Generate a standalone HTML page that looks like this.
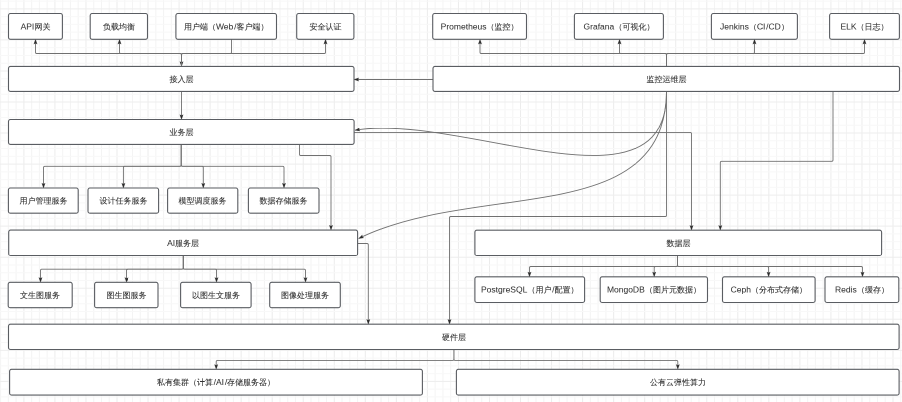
<!DOCTYPE html>
<html><head><meta charset="utf-8"><style>
html,body{margin:0;padding:0;background:#fff;width:902px;height:402px;overflow:hidden}
#s{position:absolute;left:0;top:0;width:1804px;height:804px;transform:scale(0.5);transform-origin:0 0;will-change:transform}
svg{display:block}
</style></head><body>
<div id="s"><svg width="1804" height="804" viewBox="0 0 902 402">
<rect width="902" height="402" fill="#fff"/>
<line x1="0.60" y1="0" x2="0.60" y2="402" stroke="#f4f4f4" stroke-width="1"/>
<line x1="8.36" y1="0" x2="8.36" y2="402" stroke="#f4f4f4" stroke-width="1"/>
<line x1="16.12" y1="0" x2="16.12" y2="402" stroke="#f4f4f4" stroke-width="1"/>
<line x1="23.88" y1="0" x2="23.88" y2="402" stroke="#ececec" stroke-width="1"/>
<line x1="31.64" y1="0" x2="31.64" y2="402" stroke="#f4f4f4" stroke-width="1"/>
<line x1="39.40" y1="0" x2="39.40" y2="402" stroke="#f4f4f4" stroke-width="1"/>
<line x1="47.16" y1="0" x2="47.16" y2="402" stroke="#f4f4f4" stroke-width="1"/>
<line x1="54.92" y1="0" x2="54.92" y2="402" stroke="#ececec" stroke-width="1"/>
<line x1="62.68" y1="0" x2="62.68" y2="402" stroke="#f4f4f4" stroke-width="1"/>
<line x1="70.44" y1="0" x2="70.44" y2="402" stroke="#f4f4f4" stroke-width="1"/>
<line x1="78.20" y1="0" x2="78.20" y2="402" stroke="#f4f4f4" stroke-width="1"/>
<line x1="85.96" y1="0" x2="85.96" y2="402" stroke="#ececec" stroke-width="1"/>
<line x1="93.72" y1="0" x2="93.72" y2="402" stroke="#f4f4f4" stroke-width="1"/>
<line x1="101.48" y1="0" x2="101.48" y2="402" stroke="#f4f4f4" stroke-width="1"/>
<line x1="109.24" y1="0" x2="109.24" y2="402" stroke="#f4f4f4" stroke-width="1"/>
<line x1="117.00" y1="0" x2="117.00" y2="402" stroke="#ececec" stroke-width="1"/>
<line x1="124.76" y1="0" x2="124.76" y2="402" stroke="#f4f4f4" stroke-width="1"/>
<line x1="132.52" y1="0" x2="132.52" y2="402" stroke="#f4f4f4" stroke-width="1"/>
<line x1="140.28" y1="0" x2="140.28" y2="402" stroke="#f4f4f4" stroke-width="1"/>
<line x1="148.04" y1="0" x2="148.04" y2="402" stroke="#ececec" stroke-width="1"/>
<line x1="155.80" y1="0" x2="155.80" y2="402" stroke="#f4f4f4" stroke-width="1"/>
<line x1="163.56" y1="0" x2="163.56" y2="402" stroke="#f4f4f4" stroke-width="1"/>
<line x1="171.32" y1="0" x2="171.32" y2="402" stroke="#f4f4f4" stroke-width="1"/>
<line x1="179.08" y1="0" x2="179.08" y2="402" stroke="#ececec" stroke-width="1"/>
<line x1="186.84" y1="0" x2="186.84" y2="402" stroke="#f4f4f4" stroke-width="1"/>
<line x1="194.60" y1="0" x2="194.60" y2="402" stroke="#f4f4f4" stroke-width="1"/>
<line x1="202.36" y1="0" x2="202.36" y2="402" stroke="#f4f4f4" stroke-width="1"/>
<line x1="210.12" y1="0" x2="210.12" y2="402" stroke="#ececec" stroke-width="1"/>
<line x1="217.88" y1="0" x2="217.88" y2="402" stroke="#f4f4f4" stroke-width="1"/>
<line x1="225.64" y1="0" x2="225.64" y2="402" stroke="#f4f4f4" stroke-width="1"/>
<line x1="233.40" y1="0" x2="233.40" y2="402" stroke="#f4f4f4" stroke-width="1"/>
<line x1="241.16" y1="0" x2="241.16" y2="402" stroke="#ececec" stroke-width="1"/>
<line x1="248.92" y1="0" x2="248.92" y2="402" stroke="#f4f4f4" stroke-width="1"/>
<line x1="256.68" y1="0" x2="256.68" y2="402" stroke="#f4f4f4" stroke-width="1"/>
<line x1="264.44" y1="0" x2="264.44" y2="402" stroke="#f4f4f4" stroke-width="1"/>
<line x1="272.20" y1="0" x2="272.20" y2="402" stroke="#ececec" stroke-width="1"/>
<line x1="279.96" y1="0" x2="279.96" y2="402" stroke="#f4f4f4" stroke-width="1"/>
<line x1="287.72" y1="0" x2="287.72" y2="402" stroke="#f4f4f4" stroke-width="1"/>
<line x1="295.48" y1="0" x2="295.48" y2="402" stroke="#f4f4f4" stroke-width="1"/>
<line x1="303.24" y1="0" x2="303.24" y2="402" stroke="#ececec" stroke-width="1"/>
<line x1="311.00" y1="0" x2="311.00" y2="402" stroke="#f4f4f4" stroke-width="1"/>
<line x1="318.76" y1="0" x2="318.76" y2="402" stroke="#f4f4f4" stroke-width="1"/>
<line x1="326.52" y1="0" x2="326.52" y2="402" stroke="#f4f4f4" stroke-width="1"/>
<line x1="334.28" y1="0" x2="334.28" y2="402" stroke="#ececec" stroke-width="1"/>
<line x1="342.04" y1="0" x2="342.04" y2="402" stroke="#f4f4f4" stroke-width="1"/>
<line x1="349.80" y1="0" x2="349.80" y2="402" stroke="#f4f4f4" stroke-width="1"/>
<line x1="357.56" y1="0" x2="357.56" y2="402" stroke="#f4f4f4" stroke-width="1"/>
<line x1="365.32" y1="0" x2="365.32" y2="402" stroke="#ececec" stroke-width="1"/>
<line x1="373.08" y1="0" x2="373.08" y2="402" stroke="#f4f4f4" stroke-width="1"/>
<line x1="380.84" y1="0" x2="380.84" y2="402" stroke="#f4f4f4" stroke-width="1"/>
<line x1="388.60" y1="0" x2="388.60" y2="402" stroke="#f4f4f4" stroke-width="1"/>
<line x1="396.36" y1="0" x2="396.36" y2="402" stroke="#ececec" stroke-width="1"/>
<line x1="404.12" y1="0" x2="404.12" y2="402" stroke="#f4f4f4" stroke-width="1"/>
<line x1="411.88" y1="0" x2="411.88" y2="402" stroke="#f4f4f4" stroke-width="1"/>
<line x1="419.64" y1="0" x2="419.64" y2="402" stroke="#f4f4f4" stroke-width="1"/>
<line x1="427.40" y1="0" x2="427.40" y2="402" stroke="#ececec" stroke-width="1"/>
<line x1="435.16" y1="0" x2="435.16" y2="402" stroke="#f4f4f4" stroke-width="1"/>
<line x1="442.92" y1="0" x2="442.92" y2="402" stroke="#f4f4f4" stroke-width="1"/>
<line x1="450.68" y1="0" x2="450.68" y2="402" stroke="#f4f4f4" stroke-width="1"/>
<line x1="458.44" y1="0" x2="458.44" y2="402" stroke="#ececec" stroke-width="1"/>
<line x1="466.20" y1="0" x2="466.20" y2="402" stroke="#f4f4f4" stroke-width="1"/>
<line x1="473.96" y1="0" x2="473.96" y2="402" stroke="#f4f4f4" stroke-width="1"/>
<line x1="481.72" y1="0" x2="481.72" y2="402" stroke="#f4f4f4" stroke-width="1"/>
<line x1="489.48" y1="0" x2="489.48" y2="402" stroke="#ececec" stroke-width="1"/>
<line x1="497.24" y1="0" x2="497.24" y2="402" stroke="#f4f4f4" stroke-width="1"/>
<line x1="505.00" y1="0" x2="505.00" y2="402" stroke="#f4f4f4" stroke-width="1"/>
<line x1="512.76" y1="0" x2="512.76" y2="402" stroke="#f4f4f4" stroke-width="1"/>
<line x1="520.52" y1="0" x2="520.52" y2="402" stroke="#ececec" stroke-width="1"/>
<line x1="528.28" y1="0" x2="528.28" y2="402" stroke="#f4f4f4" stroke-width="1"/>
<line x1="536.04" y1="0" x2="536.04" y2="402" stroke="#f4f4f4" stroke-width="1"/>
<line x1="543.80" y1="0" x2="543.80" y2="402" stroke="#f4f4f4" stroke-width="1"/>
<line x1="551.56" y1="0" x2="551.56" y2="402" stroke="#ececec" stroke-width="1"/>
<line x1="559.32" y1="0" x2="559.32" y2="402" stroke="#f4f4f4" stroke-width="1"/>
<line x1="567.08" y1="0" x2="567.08" y2="402" stroke="#f4f4f4" stroke-width="1"/>
<line x1="574.84" y1="0" x2="574.84" y2="402" stroke="#f4f4f4" stroke-width="1"/>
<line x1="582.60" y1="0" x2="582.60" y2="402" stroke="#ececec" stroke-width="1"/>
<line x1="590.36" y1="0" x2="590.36" y2="402" stroke="#f4f4f4" stroke-width="1"/>
<line x1="598.12" y1="0" x2="598.12" y2="402" stroke="#f4f4f4" stroke-width="1"/>
<line x1="605.88" y1="0" x2="605.88" y2="402" stroke="#f4f4f4" stroke-width="1"/>
<line x1="613.64" y1="0" x2="613.64" y2="402" stroke="#ececec" stroke-width="1"/>
<line x1="621.40" y1="0" x2="621.40" y2="402" stroke="#f4f4f4" stroke-width="1"/>
<line x1="629.16" y1="0" x2="629.16" y2="402" stroke="#f4f4f4" stroke-width="1"/>
<line x1="636.92" y1="0" x2="636.92" y2="402" stroke="#f4f4f4" stroke-width="1"/>
<line x1="644.68" y1="0" x2="644.68" y2="402" stroke="#ececec" stroke-width="1"/>
<line x1="652.44" y1="0" x2="652.44" y2="402" stroke="#f4f4f4" stroke-width="1"/>
<line x1="660.20" y1="0" x2="660.20" y2="402" stroke="#f4f4f4" stroke-width="1"/>
<line x1="667.96" y1="0" x2="667.96" y2="402" stroke="#f4f4f4" stroke-width="1"/>
<line x1="675.72" y1="0" x2="675.72" y2="402" stroke="#ececec" stroke-width="1"/>
<line x1="683.48" y1="0" x2="683.48" y2="402" stroke="#f4f4f4" stroke-width="1"/>
<line x1="691.24" y1="0" x2="691.24" y2="402" stroke="#f4f4f4" stroke-width="1"/>
<line x1="699.00" y1="0" x2="699.00" y2="402" stroke="#f4f4f4" stroke-width="1"/>
<line x1="706.76" y1="0" x2="706.76" y2="402" stroke="#ececec" stroke-width="1"/>
<line x1="714.52" y1="0" x2="714.52" y2="402" stroke="#f4f4f4" stroke-width="1"/>
<line x1="722.28" y1="0" x2="722.28" y2="402" stroke="#f4f4f4" stroke-width="1"/>
<line x1="730.04" y1="0" x2="730.04" y2="402" stroke="#f4f4f4" stroke-width="1"/>
<line x1="737.80" y1="0" x2="737.80" y2="402" stroke="#ececec" stroke-width="1"/>
<line x1="745.56" y1="0" x2="745.56" y2="402" stroke="#f4f4f4" stroke-width="1"/>
<line x1="753.32" y1="0" x2="753.32" y2="402" stroke="#f4f4f4" stroke-width="1"/>
<line x1="761.08" y1="0" x2="761.08" y2="402" stroke="#f4f4f4" stroke-width="1"/>
<line x1="768.84" y1="0" x2="768.84" y2="402" stroke="#ececec" stroke-width="1"/>
<line x1="776.60" y1="0" x2="776.60" y2="402" stroke="#f4f4f4" stroke-width="1"/>
<line x1="784.36" y1="0" x2="784.36" y2="402" stroke="#f4f4f4" stroke-width="1"/>
<line x1="792.12" y1="0" x2="792.12" y2="402" stroke="#f4f4f4" stroke-width="1"/>
<line x1="799.88" y1="0" x2="799.88" y2="402" stroke="#ececec" stroke-width="1"/>
<line x1="807.64" y1="0" x2="807.64" y2="402" stroke="#f4f4f4" stroke-width="1"/>
<line x1="815.40" y1="0" x2="815.40" y2="402" stroke="#f4f4f4" stroke-width="1"/>
<line x1="823.16" y1="0" x2="823.16" y2="402" stroke="#f4f4f4" stroke-width="1"/>
<line x1="830.92" y1="0" x2="830.92" y2="402" stroke="#ececec" stroke-width="1"/>
<line x1="838.68" y1="0" x2="838.68" y2="402" stroke="#f4f4f4" stroke-width="1"/>
<line x1="846.44" y1="0" x2="846.44" y2="402" stroke="#f4f4f4" stroke-width="1"/>
<line x1="854.20" y1="0" x2="854.20" y2="402" stroke="#f4f4f4" stroke-width="1"/>
<line x1="861.96" y1="0" x2="861.96" y2="402" stroke="#ececec" stroke-width="1"/>
<line x1="869.72" y1="0" x2="869.72" y2="402" stroke="#f4f4f4" stroke-width="1"/>
<line x1="877.48" y1="0" x2="877.48" y2="402" stroke="#f4f4f4" stroke-width="1"/>
<line x1="885.24" y1="0" x2="885.24" y2="402" stroke="#f4f4f4" stroke-width="1"/>
<line x1="893.00" y1="0" x2="893.00" y2="402" stroke="#ececec" stroke-width="1"/>
<line x1="900.76" y1="0" x2="900.76" y2="402" stroke="#f4f4f4" stroke-width="1"/>
<line x1="0" y1="1.12" x2="902" y2="1.12" stroke="#f8f8f8" stroke-width="1"/>
<line x1="0" y1="8.88" x2="902" y2="8.88" stroke="#eeeeee" stroke-width="1"/>
<line x1="0" y1="16.64" x2="902" y2="16.64" stroke="#f8f8f8" stroke-width="1"/>
<line x1="0" y1="24.40" x2="902" y2="24.40" stroke="#f8f8f8" stroke-width="1"/>
<line x1="0" y1="32.16" x2="902" y2="32.16" stroke="#f8f8f8" stroke-width="1"/>
<line x1="0" y1="39.92" x2="902" y2="39.92" stroke="#eeeeee" stroke-width="1"/>
<line x1="0" y1="47.68" x2="902" y2="47.68" stroke="#f8f8f8" stroke-width="1"/>
<line x1="0" y1="55.44" x2="902" y2="55.44" stroke="#f8f8f8" stroke-width="1"/>
<line x1="0" y1="63.20" x2="902" y2="63.20" stroke="#f8f8f8" stroke-width="1"/>
<line x1="0" y1="70.96" x2="902" y2="70.96" stroke="#eeeeee" stroke-width="1"/>
<line x1="0" y1="78.72" x2="902" y2="78.72" stroke="#f8f8f8" stroke-width="1"/>
<line x1="0" y1="86.48" x2="902" y2="86.48" stroke="#f8f8f8" stroke-width="1"/>
<line x1="0" y1="94.24" x2="902" y2="94.24" stroke="#f8f8f8" stroke-width="1"/>
<line x1="0" y1="102.00" x2="902" y2="102.00" stroke="#eeeeee" stroke-width="1"/>
<line x1="0" y1="109.76" x2="902" y2="109.76" stroke="#f8f8f8" stroke-width="1"/>
<line x1="0" y1="117.52" x2="902" y2="117.52" stroke="#f8f8f8" stroke-width="1"/>
<line x1="0" y1="125.28" x2="902" y2="125.28" stroke="#f8f8f8" stroke-width="1"/>
<line x1="0" y1="133.04" x2="902" y2="133.04" stroke="#eeeeee" stroke-width="1"/>
<line x1="0" y1="140.80" x2="902" y2="140.80" stroke="#f8f8f8" stroke-width="1"/>
<line x1="0" y1="148.56" x2="902" y2="148.56" stroke="#f8f8f8" stroke-width="1"/>
<line x1="0" y1="156.32" x2="902" y2="156.32" stroke="#f8f8f8" stroke-width="1"/>
<line x1="0" y1="164.08" x2="902" y2="164.08" stroke="#eeeeee" stroke-width="1"/>
<line x1="0" y1="171.84" x2="902" y2="171.84" stroke="#f8f8f8" stroke-width="1"/>
<line x1="0" y1="179.60" x2="902" y2="179.60" stroke="#f8f8f8" stroke-width="1"/>
<line x1="0" y1="187.36" x2="902" y2="187.36" stroke="#f8f8f8" stroke-width="1"/>
<line x1="0" y1="195.12" x2="902" y2="195.12" stroke="#eeeeee" stroke-width="1"/>
<line x1="0" y1="202.88" x2="902" y2="202.88" stroke="#f8f8f8" stroke-width="1"/>
<line x1="0" y1="210.64" x2="902" y2="210.64" stroke="#f8f8f8" stroke-width="1"/>
<line x1="0" y1="218.40" x2="902" y2="218.40" stroke="#f8f8f8" stroke-width="1"/>
<line x1="0" y1="226.16" x2="902" y2="226.16" stroke="#eeeeee" stroke-width="1"/>
<line x1="0" y1="233.92" x2="902" y2="233.92" stroke="#f8f8f8" stroke-width="1"/>
<line x1="0" y1="241.68" x2="902" y2="241.68" stroke="#f8f8f8" stroke-width="1"/>
<line x1="0" y1="249.44" x2="902" y2="249.44" stroke="#f8f8f8" stroke-width="1"/>
<line x1="0" y1="257.20" x2="902" y2="257.20" stroke="#eeeeee" stroke-width="1"/>
<line x1="0" y1="264.96" x2="902" y2="264.96" stroke="#f8f8f8" stroke-width="1"/>
<line x1="0" y1="272.72" x2="902" y2="272.72" stroke="#f8f8f8" stroke-width="1"/>
<line x1="0" y1="280.48" x2="902" y2="280.48" stroke="#f8f8f8" stroke-width="1"/>
<line x1="0" y1="288.24" x2="902" y2="288.24" stroke="#eeeeee" stroke-width="1"/>
<line x1="0" y1="296.00" x2="902" y2="296.00" stroke="#f8f8f8" stroke-width="1"/>
<line x1="0" y1="303.76" x2="902" y2="303.76" stroke="#f8f8f8" stroke-width="1"/>
<line x1="0" y1="311.52" x2="902" y2="311.52" stroke="#f8f8f8" stroke-width="1"/>
<line x1="0" y1="319.28" x2="902" y2="319.28" stroke="#eeeeee" stroke-width="1"/>
<line x1="0" y1="327.04" x2="902" y2="327.04" stroke="#f8f8f8" stroke-width="1"/>
<line x1="0" y1="334.80" x2="902" y2="334.80" stroke="#f8f8f8" stroke-width="1"/>
<line x1="0" y1="342.56" x2="902" y2="342.56" stroke="#f8f8f8" stroke-width="1"/>
<line x1="0" y1="350.32" x2="902" y2="350.32" stroke="#eeeeee" stroke-width="1"/>
<line x1="0" y1="358.08" x2="902" y2="358.08" stroke="#f8f8f8" stroke-width="1"/>
<line x1="0" y1="365.84" x2="902" y2="365.84" stroke="#f8f8f8" stroke-width="1"/>
<line x1="0" y1="373.60" x2="902" y2="373.60" stroke="#f8f8f8" stroke-width="1"/>
<line x1="0" y1="381.36" x2="902" y2="381.36" stroke="#eeeeee" stroke-width="1"/>
<line x1="0" y1="389.12" x2="902" y2="389.12" stroke="#f8f8f8" stroke-width="1"/>
<line x1="0" y1="396.88" x2="902" y2="396.88" stroke="#f8f8f8" stroke-width="1"/>
<path d="M231.50,39.30 L231.50,52.20 Q231.50,53.50 230.20,53.50 L182.80,53.50 Q181.50,53.50 181.50,54.80 L181.50,62.90" fill="none" stroke="#707070" stroke-width="0.9"/><path d="M181.50,66.40 L179.85,61.60 L181.50,62.56 L183.15,61.60 Z" fill="#2b2b2b" stroke="#2b2b2b" stroke-width="0.3"/><path d="M181.50,66.40 L181.50,54.80 Q181.50,53.50 180.20,53.50 L36.80,53.50 Q35.50,53.50 35.50,52.20 L35.50,42.80" fill="none" stroke="#707070" stroke-width="0.9"/><path d="M35.50,39.30 L37.15,44.10 L35.50,43.14 L33.85,44.10 Z" fill="#2b2b2b" stroke="#2b2b2b" stroke-width="0.3"/><path d="M181.50,66.40 L181.50,54.80 Q181.50,53.50 180.20,53.50 L120.80,53.50 Q119.50,53.50 119.50,52.20 L119.50,42.80" fill="none" stroke="#707070" stroke-width="0.9"/><path d="M119.50,39.30 L121.15,44.10 L119.50,43.14 L117.85,44.10 Z" fill="#2b2b2b" stroke="#2b2b2b" stroke-width="0.3"/><path d="M181.50,66.40 L181.50,54.80 Q181.50,53.50 182.80,53.50 L324.20,53.50 Q325.50,53.50 325.50,52.20 L325.50,42.80" fill="none" stroke="#707070" stroke-width="0.9"/><path d="M325.50,39.30 L327.15,44.10 L325.50,43.14 L323.85,44.10 Z" fill="#2b2b2b" stroke="#2b2b2b" stroke-width="0.3"/><path d="M666.50,66.40 L666.50,54.80 Q666.50,53.50 665.20,53.50 L481.30,53.50 Q480.00,53.50 480.00,52.20 L480.00,42.80" fill="none" stroke="#707070" stroke-width="0.9"/><path d="M480.00,39.30 L481.65,44.10 L480.00,43.14 L478.35,44.10 Z" fill="#2b2b2b" stroke="#2b2b2b" stroke-width="0.3"/><path d="M666.50,66.40 L666.50,54.80 Q666.50,53.50 665.20,53.50 L620.80,53.50 Q619.50,53.50 619.50,52.20 L619.50,42.80" fill="none" stroke="#707070" stroke-width="0.9"/><path d="M619.50,39.30 L621.15,44.10 L619.50,43.14 L617.85,44.10 Z" fill="#2b2b2b" stroke="#2b2b2b" stroke-width="0.3"/><path d="M666.50,66.40 L666.50,54.80 Q666.50,53.50 667.80,53.50 L753.20,53.50 Q754.50,53.50 754.50,52.20 L754.50,42.80" fill="none" stroke="#707070" stroke-width="0.9"/><path d="M754.50,39.30 L756.15,44.10 L754.50,43.14 L752.85,44.10 Z" fill="#2b2b2b" stroke="#2b2b2b" stroke-width="0.3"/><path d="M666.50,66.40 L666.50,54.80 Q666.50,53.50 667.80,53.50 L863.20,53.50 Q864.50,53.50 864.50,52.20 L864.50,42.80" fill="none" stroke="#707070" stroke-width="0.9"/><path d="M864.50,39.30 L866.15,44.10 L864.50,43.14 L862.85,44.10 Z" fill="#2b2b2b" stroke="#2b2b2b" stroke-width="0.3"/><path d="M433.00,79.50 L357.50,79.50" fill="none" stroke="#707070" stroke-width="0.9"/><path d="M354.00,79.50 L358.80,77.85 L357.84,79.50 L358.80,81.15 Z" fill="#2b2b2b" stroke="#2b2b2b" stroke-width="0.3"/><path d="M181.50,91.50 L181.50,116.00" fill="none" stroke="#707070" stroke-width="0.9"/><path d="M181.50,119.50 L179.85,114.70 L181.50,115.66 L183.15,114.70 Z" fill="#2b2b2b" stroke="#2b2b2b" stroke-width="0.3"/><path d="M181.20,144.40 L181.20,165.00 Q181.20,166.30 179.90,166.30 L44.80,166.30 Q43.50,166.30 43.50,167.60 L43.50,184.50" fill="none" stroke="#707070" stroke-width="0.9"/><path d="M43.50,188.00 L41.85,183.20 L43.50,184.16 L45.15,183.20 Z" fill="#2b2b2b" stroke="#2b2b2b" stroke-width="0.3"/><path d="M181.20,144.40 L181.20,165.00 Q181.20,166.30 179.90,166.30 L124.70,166.30 Q123.40,166.30 123.40,167.60 L123.40,184.50" fill="none" stroke="#707070" stroke-width="0.9"/><path d="M123.40,188.00 L121.75,183.20 L123.40,184.16 L125.05,183.20 Z" fill="#2b2b2b" stroke="#2b2b2b" stroke-width="0.3"/><path d="M181.20,144.40 L181.20,165.00 Q181.20,166.30 182.50,166.30 L202.00,166.30 Q203.30,166.30 203.30,167.60 L203.30,184.50" fill="none" stroke="#707070" stroke-width="0.9"/><path d="M203.30,188.00 L201.65,183.20 L203.30,184.16 L204.95,183.20 Z" fill="#2b2b2b" stroke="#2b2b2b" stroke-width="0.3"/><path d="M181.20,144.40 L181.20,165.00 Q181.20,166.30 182.50,166.30 L282.70,166.30 Q284.00,166.30 284.00,167.60 L284.00,184.50" fill="none" stroke="#707070" stroke-width="0.9"/><path d="M284.00,188.00 L282.35,183.20 L284.00,184.16 L285.65,183.20 Z" fill="#2b2b2b" stroke="#2b2b2b" stroke-width="0.3"/><path d="M299.50,144.40 L299.50,154.20 Q299.50,155.50 300.80,155.50 L329.70,155.50 Q331.00,155.50 331.00,156.80 L331.00,226.60" fill="none" stroke="#707070" stroke-width="0.9"/><path d="M331.00,230.10 L329.35,225.30 L331.00,226.26 L332.65,225.30 Z" fill="#2b2b2b" stroke="#2b2b2b" stroke-width="0.3"/><path d="M354.10,132.40 L690.20,132.40 Q691.50,132.40 691.50,133.70 L691.50,226.70" fill="none" stroke="#707070" stroke-width="0.9"/><path d="M691.50,230.20 L689.85,225.40 L691.50,226.36 L693.15,225.40 Z" fill="#2b2b2b" stroke="#2b2b2b" stroke-width="0.3"/><path d="M833.00,91.50 L833.00,160.00 Q833.00,161.30 831.70,161.30 L721.60,161.30 Q720.30,161.30 720.30,162.60 L720.30,226.70" fill="none" stroke="#707070" stroke-width="0.9"/><path d="M720.30,230.20 L718.65,225.40 L720.30,226.36 L721.95,225.40 Z" fill="#2b2b2b" stroke="#2b2b2b" stroke-width="0.3"/><path d="M666.50,91.50 L666.50,215.20 Q666.50,216.50 665.20,216.50 L450.80,216.50 Q449.50,216.50 449.50,217.80 L449.50,320.70" fill="none" stroke="#707070" stroke-width="0.9"/><path d="M449.50,324.20 L447.85,319.40 L449.50,320.36 L451.15,319.40 Z" fill="#2b2b2b" stroke="#2b2b2b" stroke-width="0.3"/><path d="M183.30,255.50 L183.30,267.90 Q183.30,269.20 182.00,269.20 L41.80,269.20 Q40.50,269.20 40.50,270.50 L40.50,278.80" fill="none" stroke="#707070" stroke-width="0.9"/><path d="M40.50,282.30 L38.85,277.50 L40.50,278.46 L42.15,277.50 Z" fill="#2b2b2b" stroke="#2b2b2b" stroke-width="0.3"/><path d="M183.30,255.50 L183.30,267.90 Q183.30,269.20 182.00,269.20 L127.80,269.20 Q126.50,269.20 126.50,270.50 L126.50,278.80" fill="none" stroke="#707070" stroke-width="0.9"/><path d="M126.50,282.30 L124.85,277.50 L126.50,278.46 L128.15,277.50 Z" fill="#2b2b2b" stroke="#2b2b2b" stroke-width="0.3"/><path d="M183.30,255.50 L183.30,267.90 Q183.30,269.20 184.60,269.20 L215.20,269.20 Q216.50,269.20 216.50,270.50 L216.50,278.80" fill="none" stroke="#707070" stroke-width="0.9"/><path d="M216.50,282.30 L214.85,277.50 L216.50,278.46 L218.15,277.50 Z" fill="#2b2b2b" stroke="#2b2b2b" stroke-width="0.3"/><path d="M183.30,255.50 L183.30,267.90 Q183.30,269.20 184.60,269.20 L304.20,269.20 Q305.50,269.20 305.50,270.50 L305.50,278.80" fill="none" stroke="#707070" stroke-width="0.9"/><path d="M305.50,282.30 L303.85,277.50 L305.50,278.46 L307.15,277.50 Z" fill="#2b2b2b" stroke="#2b2b2b" stroke-width="0.3"/><path d="M357.60,243.50 L367.00,243.50 Q368.30,243.50 368.30,244.80 L368.30,320.70" fill="none" stroke="#707070" stroke-width="0.9"/><path d="M368.30,324.20 L366.65,319.40 L368.30,320.36 L369.95,319.40 Z" fill="#2b2b2b" stroke="#2b2b2b" stroke-width="0.3"/><path d="M677.50,255.40 L677.50,265.20 Q677.50,266.50 676.20,266.50 L530.80,266.50 Q529.50,266.50 529.50,267.80 L529.50,273.30" fill="none" stroke="#707070" stroke-width="0.9"/><path d="M529.50,276.80 L527.85,272.00 L529.50,272.96 L531.15,272.00 Z" fill="#2b2b2b" stroke="#2b2b2b" stroke-width="0.3"/><path d="M677.50,255.40 L677.50,265.20 Q677.50,266.50 676.20,266.50 L655.50,266.50 Q654.20,266.50 654.20,267.80 L654.20,273.30" fill="none" stroke="#707070" stroke-width="0.9"/><path d="M654.20,276.80 L652.55,272.00 L654.20,272.96 L655.85,272.00 Z" fill="#2b2b2b" stroke="#2b2b2b" stroke-width="0.3"/><path d="M677.50,255.40 L677.50,265.20 Q677.50,266.50 678.80,266.50 L767.30,266.50 Q768.60,266.50 768.60,267.80 L768.60,273.30" fill="none" stroke="#707070" stroke-width="0.9"/><path d="M768.60,276.80 L766.95,272.00 L768.60,272.96 L770.25,272.00 Z" fill="#2b2b2b" stroke="#2b2b2b" stroke-width="0.3"/><path d="M677.50,255.40 L677.50,265.20 Q677.50,266.50 678.80,266.50 L861.20,266.50 Q862.50,266.50 862.50,267.80 L862.50,273.30" fill="none" stroke="#707070" stroke-width="0.9"/><path d="M862.50,276.80 L860.85,272.00 L862.50,272.96 L864.15,272.00 Z" fill="#2b2b2b" stroke="#2b2b2b" stroke-width="0.3"/><path d="M453.90,349.50 L453.90,359.10 Q453.90,360.40 452.60,360.40 L217.50,360.40 Q216.20,360.40 216.20,361.70 L216.20,365.80" fill="none" stroke="#707070" stroke-width="0.9"/><path d="M216.20,369.30 L214.55,364.50 L216.20,365.46 L217.85,364.50 Z" fill="#2b2b2b" stroke="#2b2b2b" stroke-width="0.3"/><path d="M453.90,349.50 L453.90,359.10 Q453.90,360.40 455.20,360.40 L676.50,360.40 Q677.80,360.40 677.80,361.70 L677.80,365.80" fill="none" stroke="#707070" stroke-width="0.9"/><path d="M677.80,369.30 L676.15,364.50 L677.80,365.46 L679.45,364.50 Z" fill="#2b2b2b" stroke="#2b2b2b" stroke-width="0.3"/><path d="M666.50,91.50 C668.17,220.07 461.03,112.06 355.00,130.20" fill="none" stroke="#707070" stroke-width="0.9"/><path d="M355.00,130.20 L359.45,127.76 L358.79,129.55 L360.01,131.02 Z" fill="#2b2b2b" stroke="#2b2b2b" stroke-width="0.3"/><path d="M666.50,91.50 C665.19,229.81 476.79,180.19 358.70,238.50" fill="none" stroke="#707070" stroke-width="0.9"/><path d="M358.70,238.50 L362.27,234.90 L362.14,236.80 L363.73,237.85 Z" fill="#2b2b2b" stroke="#2b2b2b" stroke-width="0.3"/>
<rect x="8.50" y="13.50" width="53.90" height="25.80" rx="2" ry="2" fill="#fff" stroke="#5a5d62" stroke-width="1.1"/><rect x="90.20" y="13.50" width="57.30" height="25.80" rx="2" ry="2" fill="#fff" stroke="#5a5d62" stroke-width="1.1"/><rect x="175.90" y="13.50" width="100.60" height="25.80" rx="2" ry="2" fill="#fff" stroke="#5a5d62" stroke-width="1.1"/><rect x="296.70" y="13.50" width="57.20" height="25.80" rx="2" ry="2" fill="#fff" stroke="#5a5d62" stroke-width="1.1"/><rect x="432.70" y="13.50" width="93.80" height="25.80" rx="2" ry="2" fill="#fff" stroke="#5a5d62" stroke-width="1.1"/><rect x="574.40" y="13.50" width="89.00" height="25.80" rx="2" ry="2" fill="#fff" stroke="#5a5d62" stroke-width="1.1"/><rect x="711.40" y="13.50" width="86.00" height="25.80" rx="2" ry="2" fill="#fff" stroke="#5a5d62" stroke-width="1.1"/><rect x="829.60" y="13.50" width="69.80" height="25.80" rx="2" ry="2" fill="#fff" stroke="#5a5d62" stroke-width="1.1"/><rect x="8.50" y="66.40" width="345.50" height="25.00" rx="2" ry="2" fill="#fff" stroke="#5a5d62" stroke-width="1.1"/><rect x="433.00" y="66.40" width="466.50" height="25.00" rx="2" ry="2" fill="#fff" stroke="#5a5d62" stroke-width="1.1"/><rect x="8.50" y="119.50" width="345.60" height="24.90" rx="2" ry="2" fill="#fff" stroke="#5a5d62" stroke-width="1.1"/><rect x="8.40" y="188.00" width="69.80" height="25.20" rx="2" ry="2" fill="#fff" stroke="#5a5d62" stroke-width="1.1"/><rect x="88.00" y="188.00" width="70.60" height="25.20" rx="2" ry="2" fill="#fff" stroke="#5a5d62" stroke-width="1.1"/><rect x="167.60" y="188.00" width="70.20" height="25.20" rx="2" ry="2" fill="#fff" stroke="#5a5d62" stroke-width="1.1"/><rect x="248.40" y="188.00" width="70.60" height="25.20" rx="2" ry="2" fill="#fff" stroke="#5a5d62" stroke-width="1.1"/><rect x="8.70" y="230.10" width="348.90" height="25.40" rx="2" ry="2" fill="#fff" stroke="#5a5d62" stroke-width="1.1"/><rect x="474.90" y="230.20" width="406.70" height="25.20" rx="2" ry="2" fill="#fff" stroke="#5a5d62" stroke-width="1.1"/><rect x="8.20" y="282.30" width="64.00" height="25.40" rx="2" ry="2" fill="#fff" stroke="#5a5d62" stroke-width="1.1"/><rect x="94.60" y="282.30" width="63.40" height="25.40" rx="2" ry="2" fill="#fff" stroke="#5a5d62" stroke-width="1.1"/><rect x="180.60" y="282.30" width="70.50" height="25.40" rx="2" ry="2" fill="#fff" stroke="#5a5d62" stroke-width="1.1"/><rect x="269.70" y="282.30" width="70.60" height="25.40" rx="2" ry="2" fill="#fff" stroke="#5a5d62" stroke-width="1.1"/><rect x="474.90" y="276.80" width="109.70" height="25.70" rx="2" ry="2" fill="#fff" stroke="#5a5d62" stroke-width="1.1"/><rect x="600.20" y="276.80" width="107.30" height="25.70" rx="2" ry="2" fill="#fff" stroke="#5a5d62" stroke-width="1.1"/><rect x="722.50" y="276.80" width="92.60" height="25.70" rx="2" ry="2" fill="#fff" stroke="#5a5d62" stroke-width="1.1"/><rect x="825.00" y="276.80" width="73.80" height="25.70" rx="2" ry="2" fill="#fff" stroke="#5a5d62" stroke-width="1.1"/><rect x="8.50" y="324.20" width="890.60" height="25.30" rx="2" ry="2" fill="#fff" stroke="#5a5d62" stroke-width="1.1"/><rect x="9.60" y="369.30" width="412.80" height="25.80" rx="2" ry="2" fill="#fff" stroke="#5a5d62" stroke-width="1.1"/><rect x="456.40" y="369.30" width="442.70" height="25.80" rx="2" ry="2" fill="#fff" stroke="#5a5d62" stroke-width="1.1"/>
<g font-family="Liberation Sans, sans-serif" font-size="8.05" fill="#333333" stroke="#333333" stroke-width="0.1">
<text x="35.45" y="29.40" text-anchor="middle"><tspan font-size="8.5" stroke-width="0.04">API</tspan><tspan font-size="8.05">网关</tspan></text><text x="118.85" y="29.40" text-anchor="middle"><tspan font-size="8.05">负载均衡</tspan></text><text x="226.20" y="29.40" text-anchor="middle"><tspan font-size="8.05">用户端（</tspan><tspan font-size="8.5" stroke-width="0.04">Web</tspan><tspan font-size="8.5" stroke-width="0.04" dx="0.8">/</tspan><tspan font-size="8.05">客户端）</tspan></text><text x="325.30" y="29.40" text-anchor="middle"><tspan font-size="8.05">安全认证</tspan></text><text x="479.60" y="29.40" text-anchor="middle"><tspan font-size="8.5" stroke-width="0.04">Prometheus</tspan><tspan font-size="8.05">（监控）</tspan></text><text x="618.90" y="29.40" text-anchor="middle"><tspan font-size="8.5" stroke-width="0.04">Grafana</tspan><tspan font-size="8.05">（可视化）</tspan></text><text x="754.40" y="29.40" text-anchor="middle"><tspan font-size="8.5" stroke-width="0.04">Jenkins</tspan><tspan font-size="8.05">（</tspan><tspan font-size="8.5" stroke-width="0.04">CI</tspan><tspan font-size="8.5" stroke-width="0.04" dx="0.8">/</tspan><tspan font-size="8.5" stroke-width="0.04">CD</tspan><tspan font-size="8.05">）</tspan></text><text x="864.50" y="29.40" text-anchor="middle"><tspan font-size="8.5" stroke-width="0.04">ELK</tspan><tspan font-size="8.05">（日志）</tspan></text><text x="181.25" y="81.90" text-anchor="middle"><tspan font-size="8.05">接入层</tspan></text><text x="666.25" y="81.90" text-anchor="middle"><tspan font-size="8.05">监控运维层</tspan></text><text x="181.30" y="134.95" text-anchor="middle"><tspan font-size="8.05">业务层</tspan></text><text x="43.30" y="203.60" text-anchor="middle"><tspan font-size="8.05">用户管理服务</tspan></text><text x="123.30" y="203.60" text-anchor="middle"><tspan font-size="8.05">设计任务服务</tspan></text><text x="202.70" y="203.60" text-anchor="middle"><tspan font-size="8.05">模型调度服务</tspan></text><text x="283.70" y="203.60" text-anchor="middle"><tspan font-size="8.05">数据存储服务</tspan></text><text x="183.15" y="245.80" text-anchor="middle"><tspan font-size="8.5" stroke-width="0.04">AI</tspan><tspan font-size="8.05">服务层</tspan></text><text x="678.25" y="245.80" text-anchor="middle"><tspan font-size="8.05">数据层</tspan></text><text x="40.20" y="298.00" text-anchor="middle"><tspan font-size="8.05">文生图服务</tspan></text><text x="126.30" y="298.00" text-anchor="middle"><tspan font-size="8.05">图生图服务</tspan></text><text x="215.85" y="298.00" text-anchor="middle"><tspan font-size="8.05">以图生文服务</tspan></text><text x="305.00" y="298.00" text-anchor="middle"><tspan font-size="8.05">图像处理服务</tspan></text><text x="529.75" y="292.65" text-anchor="middle"><tspan font-size="8.5" stroke-width="0.04">PostgreSQL</tspan><tspan font-size="8.05">（用户</tspan><tspan font-size="8.5" stroke-width="0.04" dx="0.8">/</tspan><tspan font-size="8.05">配置）</tspan></text><text x="653.85" y="292.65" text-anchor="middle"><tspan font-size="8.5" stroke-width="0.04">MongoDB</tspan><tspan font-size="8.05">（图片元数据）</tspan></text><text x="768.80" y="292.65" text-anchor="middle"><tspan font-size="8.5" stroke-width="0.04">Ceph</tspan><tspan font-size="8.05">（分布式存储）</tspan></text><text x="861.90" y="292.65" text-anchor="middle"><tspan font-size="8.5" stroke-width="0.04">Redis</tspan><tspan font-size="8.05">（缓存）</tspan></text><text x="453.80" y="339.85" text-anchor="middle"><tspan font-size="8.05">硬件层</tspan></text><text x="216.00" y="385.20" text-anchor="middle"><tspan font-size="8.05">私有集群（计算</tspan><tspan font-size="8.5" stroke-width="0.04" dx="0.8">/</tspan><tspan font-size="8.5" stroke-width="0.04">AI</tspan><tspan font-size="8.5" stroke-width="0.04" dx="0.8">/</tspan><tspan font-size="8.05">存储服务器）</tspan></text><text x="677.75" y="385.20" text-anchor="middle"><tspan font-size="8.05">公有云弹性算力</tspan></text>
</g>
</svg></div>
</body></html>
